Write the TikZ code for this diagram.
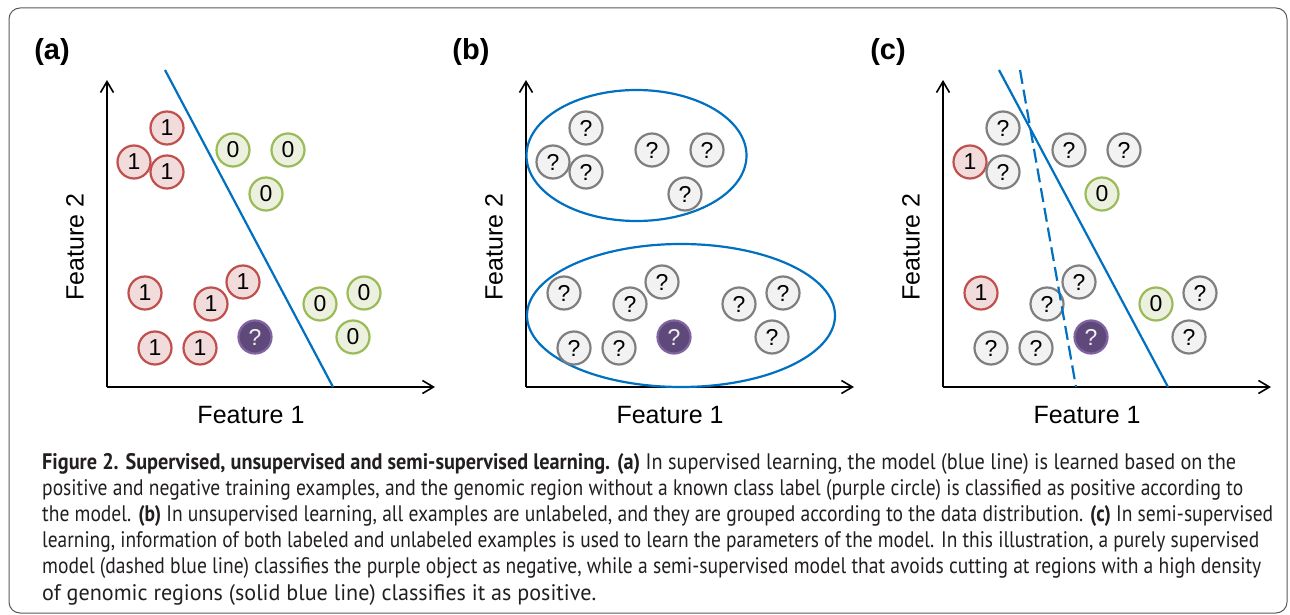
\documentclass[tikz,border=0pt]{standalone}
\usepackage{fontspec}
\usepackage{graphicx}
\setmainfont{Liberation Sans}
\newfontfamily\capfont{PT Sans}
\usetikzlibrary{arrows.meta}

\definecolor{posline}{HTML}{C0504D}
\definecolor{posfill}{HTML}{F2DCDB}
\definecolor{negline}{HTML}{9BBB59}
\definecolor{negfill}{HTML}{EBF1DE}
\definecolor{unkline}{HTML}{7F7F7F}
\definecolor{unkfill}{HTML}{F2F2F2}
\definecolor{qline}{HTML}{8064A2}
\definecolor{qfill}{HTML}{5F497A}
\definecolor{model}{HTML}{0070C0}
\definecolor{captext}{HTML}{231F20}
\definecolor{framecol}{HTML}{5A5A5A}

\tikzset{
  datapt/.style={circle, minimum size=33pt, inner sep=0pt, line width=2.2pt,
    font=\fontsize{23}{23}\selectfont},
  pospt/.style={datapt, draw=posline, fill=posfill},
  negpt/.style={datapt, draw=negline, fill=negfill},
  unkpt/.style={datapt, draw=unkline, fill=unkfill},
  qrypt/.style={datapt, draw=qline, fill=qfill, text=white!92!qfill},
  axisarrow/.style={line width=1.8pt, -{Straight Barb[length=11pt, width=13pt, line width=1.6pt]}},
  modelline/.style={draw=model, line width=2.2pt},
  featlabel/.style={font=\fontsize{25}{25}\selectfont},
  panellabel/.style={font=\bfseries\fontsize{29}{29}\selectfont},
  capline/.style={anchor=base west, inner sep=0pt, text=captext,
    font=\capfont\fontsize{22.5}{22.5}\selectfont},
}

% one caption line, set to a given width
\newcommand{\capfit}[2]{\resizebox{#1}{\height}{#2}}

% axes, axis titles and panel letter of one panel
\newcommand{\panelframe}[2]{%
  \coordinate (#1o) at (107,387);
  \coordinate (#1y) at (107,80);
  \coordinate (#1x) at (435,387);
  \draw[axisarrow] (#1o) -- (#1y);
  \draw[axisarrow] (#1o) -- (#1x);
  \node[featlabel, rotate=90] (#1f2) at (75,247) {Feature 2};
  \node[featlabel] (#1f1) at (251,415) {Feature 1};
  \node[panellabel] (#1lab) at (52,52) {#2};
}

\begin{document}
\begin{tikzpicture}[x=1pt, y=-1pt]
\useasboundingbox (0,0) rectangle (1290,615);
\fill[white] (0,0) rectangle (1290,615);
\draw[framecol, line width=1pt, rounded corners=11pt] (9,8) rectangle (1287,613);

% ---------- (a) supervised ----------
\begin{scope}
  \panelframe{a}{(a)}
  \node[pospt] (a1)  at (167,128) {1};
  \node[pospt] (a2)  at (134,162) {1};
  \node[pospt] (a3)  at (167,172) {1};
  \node[negpt] (a4)  at (233,150) {0};
  \node[negpt] (a5)  at (288,150) {0};
  \node[negpt] (a6)  at (266,194) {0};
  \node[pospt] (a7)  at (145,293) {1};
  \node[pospt] (a8)  at (243,282) {1};
  \node[pospt] (a9)  at (211,304) {1};
  \node[pospt] (a10) at (155,348) {1};
  \node[pospt] (a11) at (200,348) {1};
  \node[qrypt] (a12) at (255,337) {?};
  \node[negpt] (a13) at (320,304) {0};
  \node[negpt] (a14) at (364,293) {0};
  \node[negpt] (a15) at (353,337) {0};
  \coordinate (am1) at (165,70);
  \coordinate (am2) at (333,387);
  \draw[modelline] (am1) -- (am2);
\end{scope}

% ---------- (b) unsupervised ----------
\begin{scope}[xshift=419pt]
  \panelframe{b}{(b)}
  \draw[modelline] (217.5,155.5) ellipse [x radius=110, y radius=65.5];
  \draw[modelline] (262,315.5) ellipse [x radius=154, y radius=71.5];
  \node[unkpt] (b1)  at (167,128) {?};
  \node[unkpt] (b2)  at (134,162) {?};
  \node[unkpt] (b3)  at (167,172) {?};
  \node[unkpt] (b4)  at (233,150) {?};
  \node[unkpt] (b5)  at (288,150) {?};
  \node[unkpt] (b6)  at (266,194) {?};
  \node[unkpt] (b7)  at (145,293) {?};
  \node[unkpt] (b8)  at (243,282) {?};
  \node[unkpt] (b9)  at (211,304) {?};
  \node[unkpt] (b10) at (155,348) {?};
  \node[unkpt] (b11) at (200,348) {?};
  \node[qrypt] (b12) at (255,337) {?};
  \node[unkpt] (b13) at (320,304) {?};
  \node[unkpt] (b14) at (364,293) {?};
  \node[unkpt] (b15) at (353,337) {?};
\end{scope}

% ---------- (c) semi-supervised ----------
\begin{scope}[xshift=836pt]
  \panelframe{c}{(c)}
  \node[unkpt] (c1)  at (167,128) {?};
  \node[pospt] (c2)  at (134,162) {1};
  \node[unkpt] (c3)  at (167,172) {?};
  \node[unkpt] (c4)  at (233,150) {?};
  \node[unkpt] (c5)  at (288,150) {?};
  \node[negpt] (c6)  at (266,194) {0};
  \node[pospt] (c7)  at (145,293) {1};
  \node[unkpt] (c8)  at (243,282) {?};
  \node[unkpt] (c9)  at (211,304) {?};
  \node[unkpt] (c10) at (155,348) {?};
  \node[unkpt] (c11) at (200,348) {?};
  \node[qrypt] (c12) at (255,337) {?};
  \node[negpt] (c13) at (320,304) {0};
  \node[unkpt] (c14) at (364,293) {?};
  \node[unkpt] (c15) at (353,337) {?};
  \coordinate (cs1) at (163,70);
  \coordinate (cs2) at (332,387);
  \coordinate (cd1) at (184,70);
  \coordinate (cd2) at (240,387);
  \draw[modelline] (cs1) -- (cs2);
  \draw[modelline, dash pattern=on 14pt off 6pt] (cd1) -- (cd2);
\end{scope}

% ---------- caption ----------
\node[capline] (cap1) at (42,469) {\capfit{1194pt}{\textbf{Figure 2. Supervised, unsupervised and semi-supervised learning. (a)} In supervised learning, the model (blue line) is learned based on the}};
\node[capline] (cap2) at (42,495.2) {\capfit{1201pt}{positive and negative training examples, and the genomic region without a known class label (purple circle) is classified as positive according to}};
\node[capline] (cap3) at (42,521.4) {\capfit{1231pt}{the model. \textbf{(b)} In unsupervised learning, all examples are unlabeled, and they are grouped according to the data distribution. \textbf{(c)} In semi-supervised}};
\node[capline] (cap4) at (42,547.6) {\capfit{1217pt}{learning, information of both labeled and unlabeled examples is used to learn the parameters of the model. In this illustration, a purely supervised}};
\node[capline] (cap5) at (42,573.8) {\capfit{1219pt}{model (dashed blue line) classifies the purple object as negative, while a semi-supervised model that avoids cutting at regions with a high density}};
\node[capline] (cap6) at (42,600) {\capfit{554pt}{of genomic regions (solid blue line) classifies it as positive.}};
\end{tikzpicture}
\end{document}
